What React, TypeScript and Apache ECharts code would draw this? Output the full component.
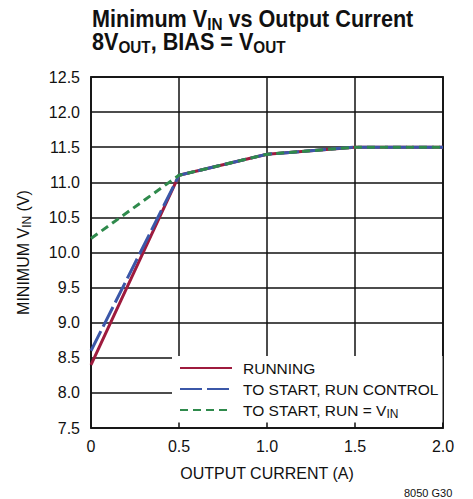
import React, { useEffect, useRef } from "react";
import * as echarts from "echarts";

const xValues = [0, 0.5, 1.0, 1.5, 2.0];
const running = [8.4, 11.1, 11.4, 11.5, 11.5];
const startRunControl = [8.6, 11.1, 11.4, 11.5, 11.5];
const startRunVin = [10.2, 11.1, 11.4, 11.5, 11.5];
const seriesNames = ["RUNNING", "TO START, RUN CONTROL", "TO START, RUN = V{s|IN}"];
const colors = ["#9e1b3e", "#3b57a8", "#2f8a4c"];
const titleLines = ["Minimum V{s|IN} vs Output Current", "8V{s|OUT}, BIAS = V{s|OUT}"];

const FONT = "'Liberation Sans', Arial, sans-serif";

export default function App() {
  const ref = useRef<HTMLDivElement>(null);
  useEffect(() => {
    document.body.style.margin = "0";
    if (!ref.current) return;
    const chart = echarts.init(ref.current, undefined, { renderer: "svg" });
    const pair = (ys: number[]) => xValues.map((x, i) => [x, ys[i]]);
    const titleRich = {
      s: { fontFamily: FONT, fontWeight: "bold", fontSize: 17, fill: "#111", padding: [10, 0, 0, 0] },
    };
    chart.setOption({
      animation: false,
      backgroundColor: "#fff",
      textStyle: { fontFamily: FONT },
      grid: {
        left: 91,
        right: 30,
        top: 77,
        bottom: 71,
        show: true,
        borderColor: "#333",
        borderWidth: 2,
      },
      xAxis: {
        type: "value",
        min: 0,
        max: 2,
        interval: 0.5,
        name: "OUTPUT CURRENT (A)",
        nameLocation: "middle",
        nameGap: 37,
        nameTextStyle: { fontFamily: FONT, fontSize: 16, color: "#111" },
        axisLine: { show: false },
        axisTick: { show: false },
        axisLabel: {
          fontFamily: FONT,
          fontSize: 16,
          color: "#111",
          margin: 10,
          formatter: (v: number) => (v === 0 ? "0" : v.toFixed(1)),
        },
        splitLine: { show: true, lineStyle: { color: "#111", width: 1.5 } },
      },
      yAxis: {
        type: "value",
        min: 7.5,
        max: 12.5,
        interval: 0.5,
        name: "MINIMUM V{s|IN} (V)",
        nameLocation: "middle",
        nameGap: 58,
        nameTextStyle: {
          fontFamily: FONT,
          fontSize: 16,
          color: "#111",
          rich: { s: { fontFamily: FONT, fontSize: 12, color: "#111", padding: [8, 0, 0, 0] } },
        },
        axisLine: { show: false },
        axisTick: { show: false },
        axisLabel: {
          fontFamily: FONT,
          fontSize: 16,
          color: "#111",
          margin: 11,
          formatter: (v: number) => v.toFixed(1),
        },
        splitLine: { show: true, lineStyle: { color: "#111", width: 1.5 } },
      },
      legend: {
        orient: "vertical",
        left: 172,
        top: 356,
        backgroundColor: "#fff",
        padding: [4, 4, 3, 7],
        itemWidth: 52,
        itemHeight: 12,
        itemGap: 5,
        itemStyle: { opacity: 0 },
        data: seriesNames,
        textStyle: {
          fontFamily: FONT,
          fontSize: 15.5,
          color: "#111",
          padding: [0, 0, 0, 6],
          rich: { s: { fontFamily: FONT, fontSize: 12, color: "#111", padding: [7, 0, 0, 0] } },
        },
      },
      series: [
        {
          name: seriesNames[0],
          type: "line",
          data: pair(running),
          symbol: "none",
          lineStyle: { color: colors[0], width: 3, type: "solid" },
          itemStyle: { color: colors[0] },
          z: 3,
        },
        {
          name: seriesNames[1],
          type: "line",
          data: pair(startRunControl),
          symbol: "none",
          lineStyle: { color: colors[1], width: 3, type: [22, 5] },
          itemStyle: { color: colors[1] },
          z: 4,
        },
        {
          name: seriesNames[2],
          type: "line",
          data: pair(startRunVin),
          symbol: "none",
          lineStyle: { color: colors[2], width: 3, type: [8, 5] },
          itemStyle: { color: colors[2] },
          z: 5,
        },
      ],
      graphic: [
        {
          type: "text",
          x: 92,
          y: 5,
          scaleX: 0.9,
          style: {
            text: titleLines[0],
            fontFamily: FONT,
            fontWeight: "bold",
            fontSize: 24,
            fill: "#111",
            rich: titleRich,
          },
        },
        {
          type: "text",
          x: 92,
          y: 28,
          scaleX: 0.9,
          style: {
            text: titleLines[1],
            fontFamily: FONT,
            fontWeight: "bold",
            fontSize: 24,
            fill: "#111",
            rich: titleRich,
          },
        },
        {
          type: "text",
          x: 404,
          y: 487,
          style: { text: "8050 G30", fontFamily: FONT, fontSize: 11, fill: "#111" },
        },
      ],
    });
    return () => chart.dispose();
  }, []);
  return <div ref={ref} style={{ width: 473, height: 499 }} />;
}
